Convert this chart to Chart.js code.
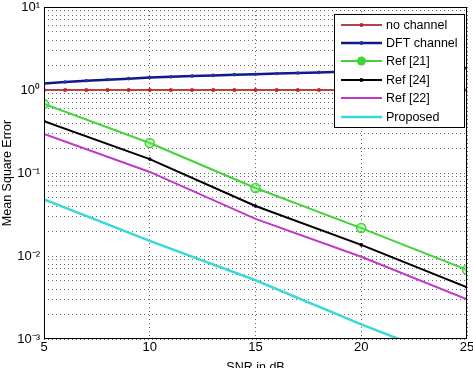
<!DOCTYPE html>
<html><head><meta charset="utf-8">
<script src="https://cdn.jsdelivr.net/npm/chart.js@4.4.1/dist/chart.umd.min.js"></script>
<style>html,body{margin:0;padding:0;background:#fff;}#wrap{width:473px;height:368px;}</style>
</head><body><div id="wrap"><canvas id="c" width="473" height="368"></canvas></div>
<script>
const snrFine = [5,6,7,8,9,10,11,12,13,14,15,16,17,18,19,20,21,22,23,24,25];
const snrCoarse = [5,10,15,20,25];
const noChannel = [1,1,1,1,1,1,1,1,1,1,1,1,1,1,1,1,1,1,1,1,1];
const dftChannel = [1.2,1.25,1.29,1.33,1.37,1.41,1.44,1.47,1.5,1.53,1.55,1.58,1.6,1.63,1.66,1.69,1.72,1.75,1.78,1.81,1.84];
const ref21 = [0.68,0.23,0.066,0.0217,0.0068];
const ref24 = [0.42,0.147,0.040,0.0136,0.0042];
const ref22 = [0.295,0.103,0.028,0.0098,0.003];
const proposed = [0.048,0.0152,0.0051,0.0015,0.00048];
const yTickLabels = {'0.001':'10⁻³','0.01':'10⁻²','0.1':'10⁻¹','1':'10⁰','10':'10¹'};

const pts = (xs, ys) => xs.map((x,i)=>({x:x, y:ys[i]}));
const FONT = "'Liberation Sans', Arial, sans-serif";

const datasets = [
  {label:'no channel', data:pts(snrFine,noChannel), borderColor:'#b24545', backgroundColor:'#c03030', borderWidth:2, pointRadius:2, pointBorderWidth:0, pointBackgroundColor:'#d02020', legendPt:'dot'},
  {label:'DFT channel', data:pts(snrFine,dftChannel), borderColor:'#10188a', backgroundColor:'#10188a', borderWidth:2.5, pointRadius:1.8, pointBorderWidth:0, pointBackgroundColor:'#2030a0', legendPt:'dot'},
  {label:'Ref [21]', data:pts(snrCoarse,ref21), borderColor:'#44d23a', backgroundColor:'#44d23a', borderWidth:2, pointRadius:4.5, pointBorderWidth:1.5, pointBackgroundColor:'rgba(120,230,110,0.4)', legendPt:'circle'},
  {label:'Ref [24]', data:pts(snrCoarse,ref24), borderColor:'#000000', backgroundColor:'#000', borderWidth:2, pointRadius:1.8, pointBorderWidth:0, pointBackgroundColor:'#000', legendPt:'dot'},
  {label:'Ref [22]', data:pts(snrCoarse,ref22), borderColor:'#c038c8', backgroundColor:'#c038c8', borderWidth:2, pointRadius:0, legendPt:'none'},
  {label:'Proposed', data:pts(snrCoarse,proposed), borderColor:'#3ad8d8', backgroundColor:'#3ad8d8', borderWidth:2.5, pointRadius:0, legendPt:'none'}
];

const frame = {
  id:'frame',
  afterDraw(chart){
    const {ctx, chartArea:a} = chart;
    ctx.save();
    ctx.strokeStyle='#000'; ctx.lineWidth=1;
    ctx.strokeRect(a.left+0.5, a.top+0.5, a.right-a.left-1, a.bottom-a.top-1);
    // legend
    const lx=334, ly=14, lw=130, lh=113;
    ctx.fillStyle='#fff'; ctx.fillRect(lx,ly,lw,lh);
    ctx.strokeRect(lx+0.5,ly+0.5,lw,lh);
    ctx.font = '12.5px '+FONT; ctx.textBaseline='middle'; ctx.textAlign='left';
    const rows=[25,43,61,80,98,117];
    chart.data.datasets.forEach((d,i)=>{
      const y=rows[i];
      ctx.strokeStyle=d.borderColor; ctx.lineWidth=d.borderWidth;
      ctx.beginPath(); ctx.moveTo(341,y); ctx.lineTo(382,y); ctx.stroke();
      if(d.legendPt==='dot'){ctx.fillStyle=d.pointBackgroundColor; ctx.beginPath(); ctx.arc(361.5,y,2,0,Math.PI*2); ctx.fill();}
      if(d.legendPt==='circle'){ctx.fillStyle=d.borderColor; ctx.beginPath(); ctx.arc(361.5,y,4.5,0,Math.PI*2); ctx.fill();}
      ctx.fillStyle='#000'; ctx.fillText(d.label,386,y+0.5);
    });
    ctx.restore();
  }
};

new Chart(document.getElementById('c'), {
  type:'line',
  data:{datasets},
  options:{
    responsive:false, animation:false, devicePixelRatio:1,
    layout:{autoPadding:false, padding:{left:0,right:6,top:7,bottom:0}},
    plugins:{legend:{display:false}, tooltip:{enabled:false}},
    elements:{line:{tension:0}},
    scales:{
      x:{type:'linear', min:5, max:25,
        ticks:{stepSize:5, color:'#000', font:{family:FONT,size:13}, padding:1},
        grid:{color:'rgba(0,0,0,0.6)', lineWidth:1, tickLength:0, drawTicks:false},
        border:{display:false, dash:[1,3]},
        title:{display:true, text:'SNR in dB', color:'#000', font:{family:FONT,size:12.5}, padding:{top:9,bottom:-7}},
        afterFit(s){ s.height = 29; s.paddingLeft = 0; s.paddingRight = 0; }
      },
      y:{type:'logarithmic', min:0.001, max:10,
        afterBuildTicks(s){
          const t=[];
          for(let e=-3;e<1;e++){ for(let m=1;m<10;m++){ t.push({value:+(m*Math.pow(10,e)).toPrecision(3)}); } }
          t.push({value:10});
          s.ticks=t;
        },
        ticks:{autoSkip:false, color:'#000', font:{family:FONT,size:13}, padding:4,
          callback:(v)=>{ const k=String(+v.toPrecision(3)); return yTickLabels[k]||''; }},
        grid:{color:'rgba(0,0,0,0.6)', lineWidth:1, drawTicks:false, tickLength:0},
        border:{display:false, dash:[1,3]},
        title:{display:true, text:'Mean Square Error', color:'#000', font:{family:FONT,size:12.5}, padding:{top:0,bottom:2}},
        afterFit(s){ s.width = 44; s.paddingTop = 0; s.paddingBottom = 0; }
      }
    }
  },
  plugins:[frame]
});
</script></body></html>
